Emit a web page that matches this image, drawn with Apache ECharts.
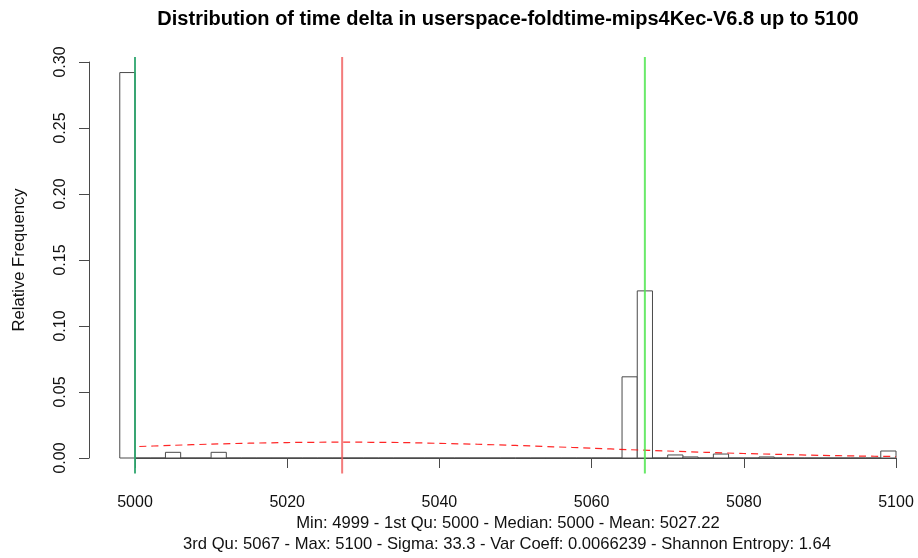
<!DOCTYPE html>
<html><head><meta charset="utf-8">
<script src="https://cdn.jsdelivr.net/npm/echarts@6/dist/echarts.min.js"></script>
<style>html,body{margin:0;padding:0;background:#fff}#c{width:918px;height:558px}</style>
</head><body><div id="c"></div>
<script>
// ---- data ----
const binLeft = [4998,5000,5002,5004,5006,5008,5010,5012,5014,5016,5018,5020,5022,5024,5026,5028,5030,5032,5034,5036,5038,5040,5042,5044,5046,5048,5050,5052,5054,5056,5058,5060,5062,5064,5066,5068,5070,5072,5074,5076,5078,5080,5082,5084,5086,5088,5090,5092,5094,5096,5098];
const relFreq = [0.292,0,0,0.0043,0,0,0.0043,0,0,0,0,0,0,0,0,0,0,0,0,0,0,0,0,0,0,0,0,0,0,0,0,0,0,0.0615,0.1266,0,0.0023,0.0008,0,0.0030,0,0,0.0008,0,0,0,0,0,0,0,0.0053];
const binWidth = 2;
const densityX = [4999,5005,5010,5015,5020,5027,5035,5040,5045,5050,5055,5060,5065,5070,5075,5080,5085,5090,5095,5100];
const densityY = [0.0084,0.0096,0.0105,0.0112,0.0117,0.0120,0.0117,0.0111,0.0104,0.0095,0.0085,0.0074,0.0063,0.0053,0.0043,0.0034,0.0027,0.0020,0.0015,0.0011];
const statNames = ['1st Qu / Median','Mean','3rd Qu'];
const statValues = [5000, 5027.22, 5067];
const xTicks = [5000,5020,5040,5060,5080,5100];
const yTicks = [0,0.05,0.10,0.15,0.20,0.25,0.30];
const titleText = 'Distribution of time delta in userspace-foldtime-mips4Kec-V6.8 up to 5100';
const subLine1 = 'Min: 4999 - 1st Qu: 5000 - Median: 5000 - Mean: 5027.22';
const subLine2 = '3rd Qu: 5067 - Max: 5100 - Sigma: 33.3 - Var Coeff: 0.0066239 - Shannon Entropy: 1.64';
const yLabel = 'Relative Frequency';

// ---- chart ----
const FONT = '"Liberation Sans", Arial, Helvetica, sans-serif';
const statColors = ['rgba(45,165,110,0.9)','rgba(240,90,90,0.8)','rgba(80,230,80,0.85)'];
const plotLo = -0.0117, plotHi = 0.3037; // R plot region extent (4% expansion)
const chart = echarts.init(document.getElementById('c'), null, {renderer:'canvas'});
const series = [
  {
    type:'custom', name:'hist', clip:false, z:2,
    data: binLeft.map((b,i)=>[b, relFreq[i]]),
    encode:{x:0,y:1},
    renderItem:(params, api)=>{
      const l = api.value(0), h = api.value(1);
      const p0 = api.coord([l, 0]);
      const p1 = api.coord([l + binWidth, h]);
      return {type:'rect', shape:{x:p0[0], y:p1[1], width:p1[0]-p0[0], height:p0[1]-p1[1]},
        style:{fill:'#fff', stroke:'#4a4a4a', lineWidth:1}};
    }
  },
  {
    type:'line', name:'density', clip:false, z:3, symbol:'none', smooth:0.3,
    data: densityX.map((x,i)=>[x, densityY[i]]),
    lineStyle:{color:'rgba(255,0,0,0.85)', width:1.2, type:[7,5]}
  }
];
statValues.forEach((v,i)=>{
  series.push({type:'line', name:statNames[i], clip:false, z:4, symbol:'none',
    data:[[v, plotLo],[v, plotHi]], lineStyle:{color:statColors[i], width:2}});
});
chart.setOption({
  animation:false,
  backgroundColor:'#fff',
  grid:{left:135, right:22, top:62, bottom:100, containLabel:false},
  xAxis:{
    type:'value', min:5000, max:5100, interval:20, offset:15,
    axisLine:{show:true, lineStyle:{color:'#4a4a4a', width:1}},
    axisTick:{show:true, length:10, lineStyle:{color:'#4a4a4a'}},
    axisLabel:{fontSize:16, color:'#111', fontFamily:FONT, margin:22, formatter:v=>String(v)},
    splitLine:{show:false}
  },
  yAxis:{
    type:'value', min:0, max:0.3, interval:0.05, offset:46,
    name:yLabel, nameLocation:'middle', nameGap:61,
    nameTextStyle:{fontSize:16.6, color:'#111', fontFamily:FONT},
    axisLine:{show:true, lineStyle:{color:'#4a4a4a', width:1}},
    axisTick:{show:true, length:10, lineStyle:{color:'#4a4a4a'}},
    axisLabel:{fontSize:16, color:'#111', fontFamily:FONT, rotate:90, margin:20,
      formatter:v=>v.toFixed(2)},
    splitLine:{show:false}
  },
  graphic:[
    {type:'text', x:508, y:19, style:{text:titleText, fontSize:20, fontWeight:'bold', fontFamily:FONT,
      fill:'#000', textAlign:'center', textVerticalAlign:'middle'}},
    {type:'text', x:508, y:523, style:{text:subLine1, fontSize:16.6, fontFamily:FONT,
      fill:'#111', textAlign:'center', textVerticalAlign:'middle'}},
    {type:'text', x:507, y:544, style:{text:subLine2, fontSize:16.6, fontFamily:FONT,
      fill:'#111', textAlign:'center', textVerticalAlign:'middle'}}
  ],
  series:series
});
</script></body></html>
